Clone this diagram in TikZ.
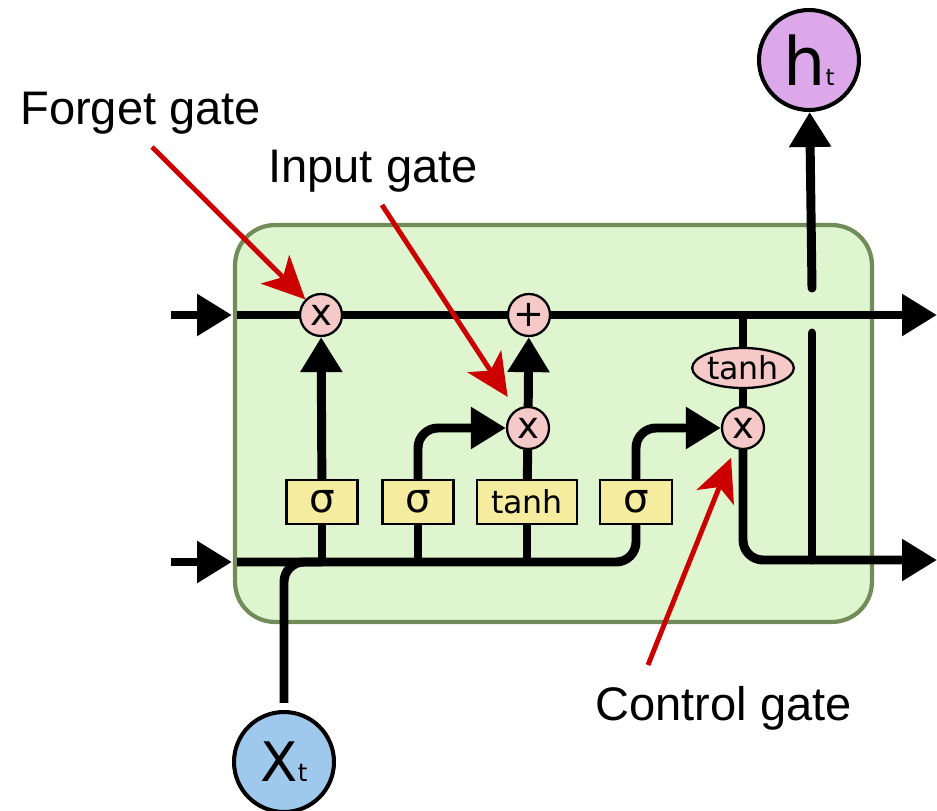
\documentclass[tikz,border=0pt]{standalone}
\usepackage{fontspec}
\setmainfont{Liberation Sans}
\newfontfamily\djv{DejaVu Sans}
\usepackage{tikz}
\usetikzlibrary{arrows.meta,positioning,shapes.geometric}
\definecolor{CellGreen}{RGB}{222,245,207}
\definecolor{CellEdge}{RGB}{112,140,88}
\definecolor{GateYellow}{RGB}{245,236,160}
\definecolor{OpPink}{RGB}{246,201,201}
\definecolor{OutPurple}{RGB}{221,168,234}
\definecolor{InBlue}{RGB}{158,200,236}
\definecolor{NoteRed}{RGB}{204,0,0}
\tikzset{
  cellbox/.style={draw=CellEdge, fill=CellGreen, line width=2.4pt, rounded corners=0.8cm,
                  minimum width=12.74cm, minimum height=7.94cm},
  gatebox/.style={draw, fill=GateYellow, line width=1.3pt, minimum height=0.88cm,
                  inner sep=0pt, font=\djv\fontsize{18}{20}\selectfont},
  sigbox/.style={gatebox, minimum width=1.42cm, font=\djv\fontsize{23}{24}\selectfont},
  pointop/.style={draw, fill=OpPink, line width=1.3pt, circle, minimum size=0.84cm,
                  inner sep=0pt, font=\djv\fontsize{21}{22}\selectfont},
  vecnode/.style={draw, line width=2.3pt, circle, minimum size=2cm, inner sep=0pt, font=\djv},
  wire/.style={line width=5.1pt},
  flow/.style={wire, -{Triangle[length=0.7cm, width=0.8cm]}},
  pointer/.style={-{Stealth[length=0.85cm, width=0.8cm, inset=0.22cm]}, line width=2.8pt,
                  color=NoteRed},
  lbl/.style={inner sep=0pt, anchor=base west, font=\fontsize{26.8}{30}\selectfont}
}
\begin{document}
\begin{tikzpicture}[x=0.02cm, y=-0.02cm]
\useasboundingbox (0,0) rectangle (937,811);
\node[cellbox] (cell) at (553.5,423.5) {};

\node[pointop] (fmul) at (321,315) {x};
\node[pointop] (add) at (529,315) {+};
\node[pointop] (imul) at (528,428) {x};
\node[pointop] (omul) at (743,428) {x};
\node[pointop, ellipse, minimum width=1.96cm, minimum height=0.8cm,
      font=\djv\fontsize{18}{20}\selectfont] (otanh) at (743,368) {tanh};

\node[sigbox] (sig1) at (322,502) {σ};
\node[sigbox] (sig2) at (418,502) {σ};
\node[gatebox, minimum width=2.0cm] (tnh) at (527,502) {tanh};
\node[sigbox, minimum width=1.44cm] (sig4) at (636,502) {σ};

\node[vecnode, fill=OutPurple] (ht) at (809,60) {{\fontsize{38}{38}\selectfont h}{\fontsize{13}{13}\selectfont t}};
\node[vecnode, fill=InBlue] (xt) at (284,762) {{\fontsize{31}{31}\selectfont X}{\fontsize{14}{14}\selectfont t}};

\coordinate (cin) at (171,315);
\coordinate (cinend) at (232,315);
\coordinate (cstart) at (237,315);
\coordinate (cend) at (937,315);
\coordinate (hin) at (171,562);
\coordinate (hinend) at (232,562);
\coordinate (hstart) at (237,562);
\coordinate (hend) at (937,560);
\coordinate (hjlow) at (812,333);
\coordinate (hjhigh) at (812,288);

\draw[flow] (cin) -- (cinend);
\draw[wire] (cstart) -- (fmul);
\draw[wire] (fmul) -- (add);
\draw[flow] (add) -- (cend);
\draw[flow] (hin) -- (hinend);
\draw[wire, rounded corners=0.4cm] (hstart) -| (sig4);
\draw[wire] (sig1 |- hstart) -- (sig1);
\draw[wire] (sig2 |- hstart) -- (sig2);
\draw[wire] (tnh |- hstart) -- (tnh);
\draw[wire, rounded corners=0.4cm, shorten <=0.14cm] (xt) |- (sig1 |- hstart);

\draw[flow] (sig1) -- (fmul);
\draw[flow, rounded corners=0.4cm] (sig2) |- (imul);
\draw[wire] (tnh) -- (imul);
\draw[flow] (imul) -- (add);
\draw[flow, rounded corners=0.4cm] (sig4) |- (omul);
\draw[wire] (otanh.north |- cstart) -- (otanh);
\draw[wire] (otanh) -- (omul);
\draw[flow, rounded corners=0.4cm] (omul) |- (hend);
\draw[wire, line cap=round] (hjlow |- hend) -- (hjlow);
\draw[flow, line cap=round] (hjhigh) -- (ht);

\node[lbl] (flbl) at (20,125) {Forget gate};
\node[lbl] (ilbl) at (268,182) {Input gate};
\node[lbl] (clbl) at (595,720) {Control gate};
\coordinate (fgtail) at (152,147);
\coordinate (igtail) at (382,205);
\coordinate (cgtail) at (648,665);
\draw[pointer] (fgtail) -- (fmul);
\draw[pointer, shorten >=0.3cm] (igtail) -- (imul);
\draw[pointer, shorten >=0.2cm] (cgtail) -- (omul);
\end{tikzpicture}
\end{document}
